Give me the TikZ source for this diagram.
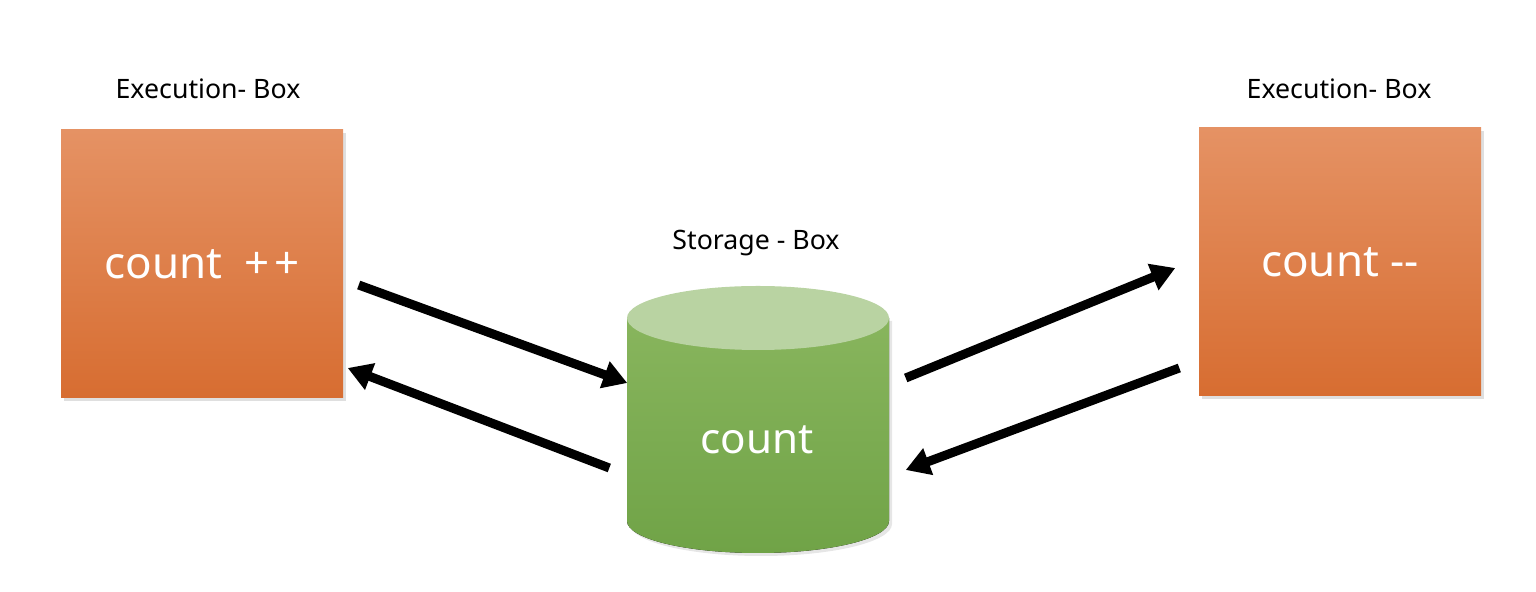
\documentclass[tikz,border=0pt]{standalone}
\usepackage{fontspec}
\setmainfont{Noto Sans}
\usetikzlibrary{
  calc,
  shadows,
  positioning,
  arrows.meta
}
\definecolor{exTop}{RGB}{229,146,100}
\definecolor{exMid}{RGB}{226,126,62}
\definecolor{exBot}{RGB}{215,109,49}
\definecolor{stTop}{RGB}{136,181,93}
\definecolor{stBot}{RGB}{112,163,71}
\definecolor{stLid}{RGB}{185,211,162}

\begin{document}
\begin{tikzpicture}[exbox/.style={rectangle, minimum width=2.82cm, minimum height=2.68cm, top color=exTop, middle color=exMid, bottom color=exBot, text=white, font=\fontsize{12.5}{15}\selectfont, drop shadow={opacity=0.25, shadow xshift=0.03cm, shadow yshift=-0.03cm}}, lbl/.style={font=\fontsize{7.6}{9}\selectfont}, flow/.style={->, line width=0.09cm}, >={Triangle[length=0.24cm,width=0.27cm]}]
\useasboundingbox (0,0) rectangle (15.36,5.92);
\node[exbox] (inc) at (2.02,3.28) {count\hspace{0.5em}+\kern1.5pt+};
\node[exbox] (dec) at (13.40,3.30) {count -{}-};
\node[lbl] (inclbl) at (2.08,5.03) {Execution- Box};
\node[lbl] (declbl) at (13.39,5.03) {Execution- Box};
% storage cylinder
\node[minimum width=2.62cm, minimum height=2.66cm] (store) at (7.58,1.72) {};
\fill[top color=stTop, bottom color=stBot, drop shadow={opacity=0.2, shadow xshift=0.03cm, shadow yshift=-0.03cm}]
  (6.27,2.74) -- (6.27,0.71) arc[start angle=180, end angle=360, x radius=1.31, y radius=0.32] -- (8.89,2.74) -- cycle;
\fill[stLid] (7.58,2.74) ellipse[x radius=1.31, y radius=0.32];
\node[text=white, font=\fontsize{12}{14}\selectfont] (cnt) at (7.57,1.52) {count};
\node[lbl] (stlbl) at (7.56,3.49) {Storage - Box};
\draw[flow] ($(inc.east)+(0.15,-0.21)$) -- ($(store.west)+(0.01,0.37)$);
\draw[flow] ($(store.west)+(-0.17,-0.48)$) -- ($(inc.east)+(0.04,-1.04)$);
\draw[flow] ($(store.east)+(0.16,0.42)$) -- ($(dec.west)+(-0.23,-0.06)$);
\draw[flow] ($(dec.west)+(-0.19,-1.06)$) -- ($(store.east)+(0.16,-0.50)$);
\end{tikzpicture}
\end{document}
